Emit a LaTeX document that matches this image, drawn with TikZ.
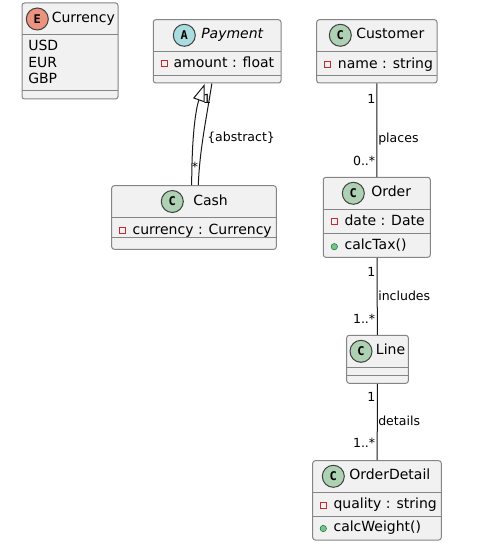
\documentclass[tikz,border=0pt]{standalone}
\usepackage{fontspec}
\setmainfont{DejaVu Sans}
\newfontfamily\iconfont{DejaVu Sans Mono}
\usetikzlibrary{fit,calc,arrows.meta}
\definecolor{boxfill}{HTML}{F1F1F1}
\definecolor{boxline}{HTML}{858585}
\definecolor{enumicon}{HTML}{EB937F}
\definecolor{absicon}{HTML}{A9DCDF}
\definecolor{classicon}{HTML}{ADD1B2}
\definecolor{privred}{HTML}{C82930}
\definecolor{pubgreen}{HTML}{84BE84}
\definecolor{publine}{HTML}{038048}
\tikzset{
  classbox/.style={draw=boxline, fill=boxfill, line width=0.75pt, rounded corners=1.9pt, inner sep=0pt},
  sep/.style={draw=boxline, line width=0.75pt},
  icon/.style={circle, draw=black!75, line width=0.75pt, minimum size=16.5pt, inner sep=0pt, font=\iconfont\bfseries\fontsize{9}{9}\selectfont},
  cname/.style={inner sep=0pt, anchor=west, text height=0.75em, text depth=0.2em, font=\fontsize{10.5}{12}\selectfont},
  attr/.style={inner sep=0pt, anchor=west, text height=0.75em, text depth=0.2em, font=\fontsize{10.5}{12}\selectfont},
  priv/.style={draw=privred, line width=0.75pt, minimum size=4.5pt, inner sep=0pt},
  pub/.style={circle, fill=pubgreen, draw=publine, line width=0.4pt, minimum size=4.8pt, inner sep=0pt},
  assoc/.style={draw=black!90, line width=0.75pt},
  lbl/.style={inner sep=0pt, text height=0.75em, text depth=0.2em, font=\fontsize{9.4}{11}\selectfont}
}
\begin{document}
\begin{tikzpicture}[x=0.75pt, y=-0.75pt]
        \useasboundingbox (0,0) rectangle (486,549);
        \node [classbox, fit={(22,3) (118,99)}] (currency) {};
        \draw [sep] (22,35) -- (118,35);
        \draw [sep] (22,91) -- (118,91);
        \node [icon, fill=enumicon] (currencyI) at (37.3,19) {E};
        \node [cname] (currencyN) at (51.5,19) {Currency};
        \node [attr] (usd) at (28,47.3) {USD};
        \node [attr] (eur) at (28,63.5) {EUR};
        \node [attr] (gbp) at (28,80) {GBP};

        \node [classbox, fit={(153.3,19.7) (281,83)}] (payment) {};
        \draw [sep] (153.3,51.7) -- (281,51.7);
        \draw [sep] (153.3,76) -- (281,76);
        \node [icon, fill=absicon] (paymentI) at (184.3,35.3) {A};
        \node [cname, font=\fontsize{10.5}{12}\selectfont\itshape] (paymentN) at (201,35.3) {Payment};
        \node [priv] (paymentV) at (164.3,63.8) {};
        \node [attr] (amount) at (173.3,63.5) {amount : float};

        \node [classbox, fit={(111.7,185.7) (276.3,249.3)}] (cash) {};
        \draw [sep] (111.7,217.3) -- (276.3,217.3);
        \draw [sep] (111.7,237.3) -- (276.3,237.3);
        \node [icon, fill=classicon] (cashI) at (172.3,201.5) {C};
        \node [cname] (cashN) at (193,201.5) {Cash};
        \node [priv] (cashV) at (122.3,230.8) {};
        \node [attr] (currencyA) at (132.3,230.5) {currency : Currency};

        \node [classbox, fit={(316.7,19.7) (437,83)}] (customer) {};
        \draw [sep] (316.7,51.7) -- (437,51.7);
        \draw [sep] (316.7,75.7) -- (437,75.7);
        \node [icon, fill=classicon] (customerI) at (340.3,35.3) {C};
        \node [cname] (customerN) at (356,35.3) {Customer};
        \node [priv] (customerV) at (327.3,64.8) {};
        \node [attr] (name) at (337.7,64.5) {name : string};

        \node [classbox, fit={(323.3,177.3) (430.3,257.3)}] (order) {};
        \draw [sep] (323.3,209.3) -- (430.3,209.3);
        \draw [sep] (323.3,233.3) -- (430.3,233.3);
        \node [icon, fill=classicon] (orderI) at (353.3,193.3) {C};
        \node [cname] (orderN) at (371,193.3) {Order};
        \node [priv] (orderV) at (334.3,221.8) {};
        \node [attr] (date) at (344.3,221.5) {date : Date};
        \node [pub] (orderM) at (334.3,246.7) {};
        \node [attr] (calctax) at (344.3,245.8) {calcTax()};

        \node [classbox, fit={(346.7,335.3) (408.3,383.3)}] (line) {};
        \draw [sep] (346.7,367.3) -- (408.3,367.3);
        \draw [sep] (346.7,375.3) -- (408.3,375.3);
        \node [icon, fill=classicon] (lineI) at (361,351.3) {C};
        \node [cname] (lineN) at (375.7,351.3) {Line};

        \node [classbox, fit={(312.7,460.7) (441.3,540)}] (detail) {};
        \draw [sep] (312.7,492.3) -- (441.3,492.3);
        \draw [sep] (312.7,516.7) -- (441.3,516.7);
        \node [icon, fill=classicon] (detailI) at (333.3,476.3) {C};
        \node [cname] (detailN) at (349,476.3) {OrderDetail};
        \node [priv] (detailV) at (323.3,505.2) {};
        \node [attr] (quality) at (333.3,505) {quality : string};
        \node [pub] (detailM) at (323.3,528.5) {};
        \node [attr] (calcweight) at (333.3,527.8) {calcWeight()};

        \coordinate (genFrom) at ($(cash.north)+(-2.3,0)$);
        \coordinate (genTo) at ($(payment.south)+(-12.5,0.5)$);
        \coordinate (asFrom) at ($(cash.north)+(4.3,0)$);
        \coordinate (asTo) at ($(payment.south)+(-5.3,0)$);
        \draw [assoc, -{Triangle[open, length=13pt, width=9pt, line width=0.75pt]}] (genFrom) .. controls (191.7,135) and (196,108) .. (genTo);
        \draw [assoc] (asFrom) .. controls (199.5,150) and (207,115) .. (asTo);
        \node [lbl] (payment1) at (207,99.5) {1};
        \node [lbl] (cashStar) at (195,168) {*};
        \node [lbl, anchor=west] (abstract) at (207,138.3) {\{abstract\}};

        \draw [assoc] (customer) -- (order);
        \node [lbl, anchor=east] (customer1) at (375.5,100) {1};
        \node [lbl, anchor=west] (places) at (378,139) {places};
        \node [lbl, anchor=east] (order0n) at (375.5,162) {0..*};

        \draw [assoc] (order) -- (line);
        \node [lbl, anchor=east] (order1) at (375.5,273) {1};
        \node [lbl, anchor=west] (includes) at (378,297) {includes};
        \node [lbl, anchor=east] (line1n) at (375.5,320) {1..*};

        \draw [assoc] (line) -- (detail);
        \node [lbl, anchor=east] (line1) at (375.5,398) {1};
        \node [lbl, anchor=west] (details) at (378,422) {details};
        \node [lbl, anchor=east] (detail1n) at (375.5,444) {1..*};
    \end{tikzpicture}
\end{document}
